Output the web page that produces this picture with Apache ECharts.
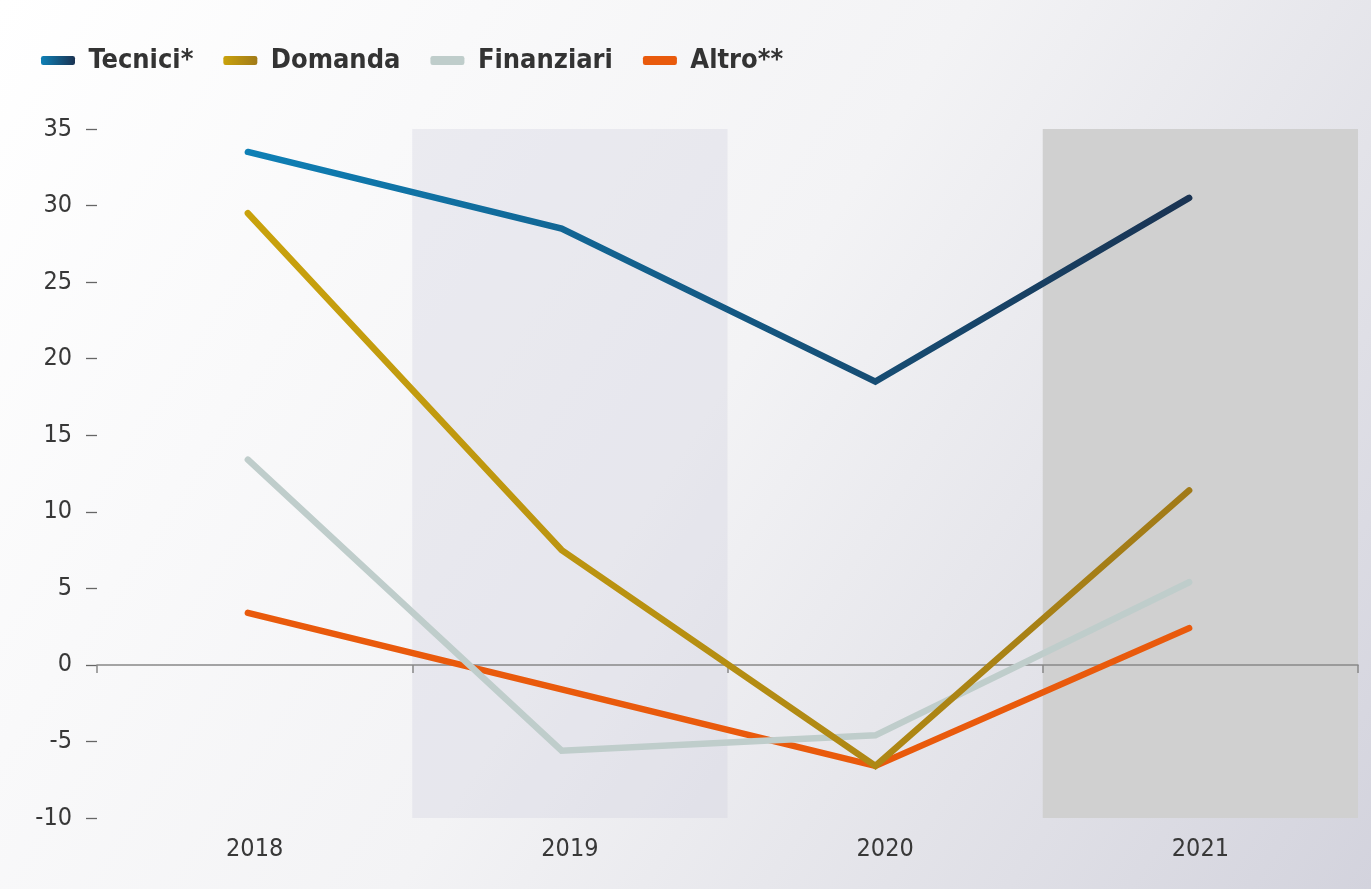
<!DOCTYPE html>
<html>
<head>
<meta charset="utf-8">
<style>
  html, body { margin: 0; padding: 0; width: 1371px; height: 889px; overflow: hidden; }
  #chartmain { width: 1371px; height: 889px; }
</style>
<script src="https://cdn.jsdelivr.net/npm/echarts@6/dist/echarts.min.js"></script>
</head>
<body>
<div id="chartmain"></div>
<script>
var years = ['2018', '2019', '2020', '2021'];
var yTicks = { min: -10, max: 35, step: 5 };

var tecnici = [33.5, 28.5, 18.5, 30.5];
var domanda = [29.5, 7.5, -6.6, 11.4];
var finanziari = [13.4, -5.6, -4.6, 5.4];
var altro = [3.4, -1.6, -6.6, 2.4];

var narrow = '"DejaVu Sans Condensed", "Liberation Sans Narrow", Roboto, sans-serif';

function grad(a, b) {
    return new echarts.graphic.LinearGradient(0, 0, 1, 0, [
        { offset: 0, color: a },
        { offset: 1, color: b }
    ]);
}

var colTecnici = grad('#0e80b6', '#1a3352');
var colDomanda = grad('#c9a20c', '#a17a18');
var colFinanziari = '#bfcdcb';
var colAltro = '#e95a0c';

function lineSeries(name, data, color, z) {
    return {
        name: name,
        type: 'line',
        xAxisIndex: 2,
        yAxisIndex: 1,
        data: data,
        symbol: 'none',
        z: z,
        itemStyle: { color: color },
        lineStyle: { color: color, width: 6.5, cap: 'round', join: 'miter' },
        emphasis: { disabled: true }
    };
}

var chart = echarts.init(document.getElementById('chartmain'));
chart.setOption({
    animation: false,
    backgroundColor: new echarts.graphic.LinearGradient(0, 0, 1, 1, [
        { offset: 0, color: '#ffffff' },
        { offset: 0.5, color: '#f3f3f5' },
        { offset: 1, color: '#d3d3dd' }
    ]),
    legend: {
        left: 36,
        top: 42,
        icon: 'roundRect',
        itemWidth: 34,
        itemHeight: 9,
        itemGap: 30,
        formatter: function (name) { return ' ' + name; },
        textStyle: {
            fontFamily: narrow,
            fontWeight: 'bold',
            fontSize: 27,
            color: '#333'
        },
        data: ['Tecnici*', 'Domanda', 'Finanziari', 'Altro**']
    },
    // grid 0: bande e assi; grid 1: linee (leggermente spostate a sinistra come nell'originale)
    grid: [
        { left: 97, right: 13, top: 129, bottom: 71 },
        { left: 91, right: 25, top: 129, bottom: 71 }
    ],
    xAxis: [{
        type: 'category',
        gridIndex: 0,
        data: years,
        boundaryGap: true,
        axisLine: { show: false, onZero: false },
        axisTick: { show: false },
        axisLabel: {
            margin: 19,
            fontFamily: narrow,
            fontSize: 25,
            color: '#383838'
        },
        splitArea: {
            show: true,
            areaStyle: {
                color: ['rgba(0,0,0,0)', 'rgba(205,205,222,0.32)', 'rgba(0,0,0,0)', '#d0d0d0']
            }
        }
    }, {
        type: 'category',
        gridIndex: 0,
        data: years,
        position: 'bottom',
        boundaryGap: true,
        axisLine: { show: true, onZero: true, lineStyle: { color: '#888', width: 1.5 } },
        axisTick: { show: true, length: 8, lineStyle: { color: '#888', width: 1.5 } },
        axisLabel: { show: false }
    }, {
        type: 'category',
        gridIndex: 1,
        data: years,
        boundaryGap: true,
        show: false
    }],
    yAxis: [{
        type: 'value',
        gridIndex: 0,
        min: yTicks.min,
        max: yTicks.max,
        interval: yTicks.step,
        axisLine: { show: false },
        axisTick: { show: true, length: 11, lineStyle: { color: '#666', width: 1.3 } },
        splitLine: { show: false },
        axisLabel: {
            margin: 25,
            fontFamily: narrow,
            fontSize: 25,
            color: '#383838'
        }
    }, {
        type: 'value',
        gridIndex: 1,
        min: yTicks.min,
        max: yTicks.max,
        interval: yTicks.step,
        show: false
    }],
    series: [
        lineSeries('Tecnici*', tecnici, colTecnici, 5),
        lineSeries('Domanda', domanda, colDomanda, 4),
        lineSeries('Finanziari', finanziari, colFinanziari, 3),
        lineSeries('Altro**', altro, colAltro, 2)
    ]
});
</script>
</body>
</html>
